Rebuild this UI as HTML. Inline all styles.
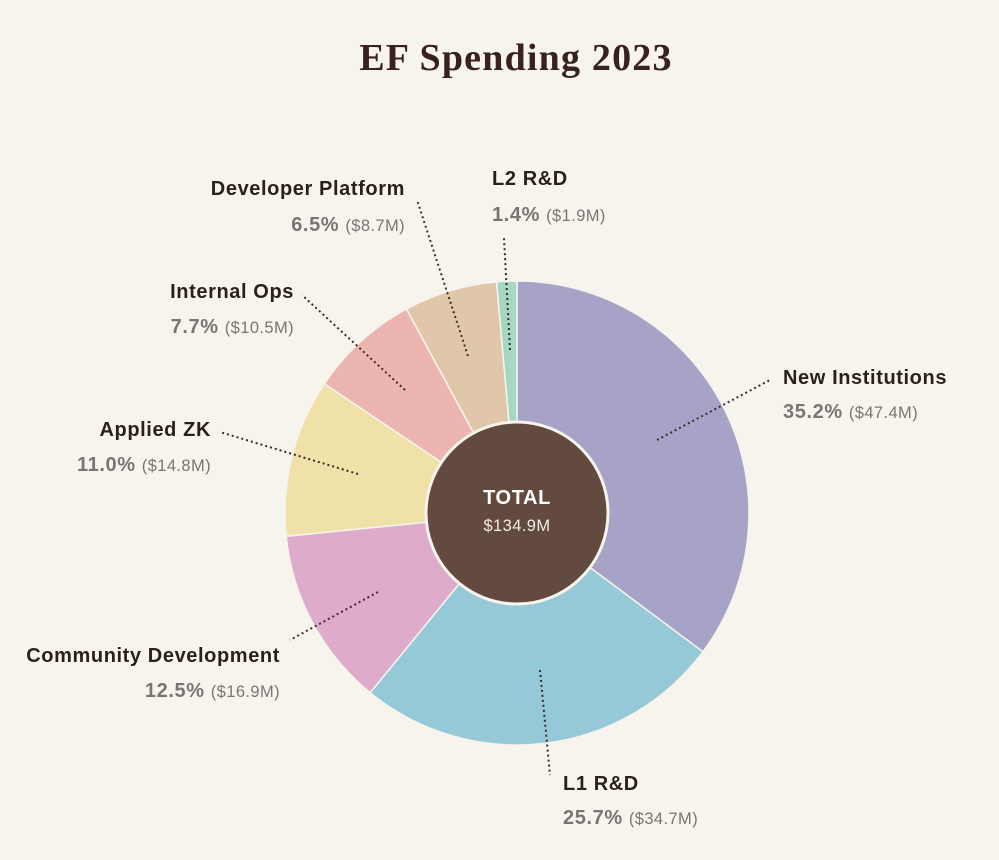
<!DOCTYPE html>
<html><head><meta charset="utf-8"><style>
html,body{margin:0;padding:0;background:#f7f4ee;}
svg{display:block;}
.t{font-family:"Liberation Sans",sans-serif;font-weight:bold;font-size:20px;letter-spacing:0.6px;fill:#2b1f1b;}
.p{font-family:"Liberation Sans",sans-serif;font-weight:bold;font-size:20px;letter-spacing:0.6px;fill:#7a7572;}
.d{font-family:"Liberation Sans",sans-serif;font-weight:normal;font-size:16.5px;letter-spacing:0.4px;fill:#7a7572;}
.l{stroke:#3a2c28;stroke-width:2;stroke-dasharray:2 3;fill:none;}
</style></head><body>
<svg width="999" height="860" viewBox="0 0 999 860">
<rect width="999" height="860" fill="#f7f4ee"/>
<text x="516" y="70" text-anchor="middle" font-family="Liberation Serif,serif" font-weight="bold" font-size="38" letter-spacing="1.2" fill="#3a221c">EF Spending 2023</text>
<g stroke="#f7f4ee" stroke-width="1.5">
<path d="M517,513 L517,281 A232,232 0 0 1 702.9,651.8 Z" fill="#a6a3c6"/>
<path d="M517,513 L702.9,651.8 A232,232 0 0 1 370.2,692.7 Z" fill="#96c9d7"/>
<path d="M517,513 L370.2,692.7 A232,232 0 0 1 286.2,536.3 Z" fill="#dfabcb"/>
<path d="M517,513 L286.2,536.3 A232,232 0 0 1 324.3,383.8 Z" fill="#f0e1a8"/>
<path d="M517,513 L324.3,383.8 A232,232 0 0 1 406.5,309.0 Z" fill="#ecb5b0"/>
<path d="M517,513 L406.5,309.0 A232,232 0 0 1 496.6,281.9 Z" fill="#e1c7a9"/>
<path d="M517,513 L496.6,281.9 A232,232 0 0 1 517,281 Z" fill="#a6d7c3"/>
</g>
<circle cx="517" cy="513" r="91" fill="#634a3e" stroke="#f7f4ee" stroke-width="3"/>
<text x="517" y="504" text-anchor="middle" class="t" style="fill:#fff">TOTAL</text>
<text x="517" y="531" text-anchor="middle" class="d" style="fill:#f3ebe5">$134.9M</text>
<path class="l" d="M657,440 L770,380"/>
<path class="l" d="M540,670 L550,775"/>
<path class="l" d="M378,592 L290,640"/>
<path class="l" d="M358,474 L220,432"/>
<path class="l" d="M405,390 L302,295"/>
<path class="l" d="M468,356 L417,200"/>
<path class="l" d="M510,350 L504,238"/>
<text x="783" y="384" class="t">New Institutions</text>
<text x="783" y="418" class="p">35.2% <tspan class="d">($47.4M)</tspan></text>
<text x="563" y="790" class="t">L1 R&amp;D</text>
<text x="563" y="824" class="p">25.7% <tspan class="d">($34.7M)</tspan></text>
<text x="280" y="662" text-anchor="end" class="t">Community Development</text>
<text x="280" y="697" text-anchor="end" class="p">12.5% <tspan class="d">($16.9M)</tspan></text>
<text x="211" y="436" text-anchor="end" class="t">Applied ZK</text>
<text x="211" y="471" text-anchor="end" class="p">11.0% <tspan class="d">($14.8M)</tspan></text>
<text x="294" y="298" text-anchor="end" class="t">Internal Ops</text>
<text x="294" y="333" text-anchor="end" class="p">7.7% <tspan class="d">($10.5M)</tspan></text>
<text x="405" y="195" text-anchor="end" class="t">Developer Platform</text>
<text x="405" y="231" text-anchor="end" class="p">6.5% <tspan class="d">($8.7M)</tspan></text>
<text x="492" y="185" class="t">L2 R&amp;D</text>
<text x="492" y="221" class="p">1.4% <tspan class="d">($1.9M)</tspan></text>
</svg>
</body></html>
